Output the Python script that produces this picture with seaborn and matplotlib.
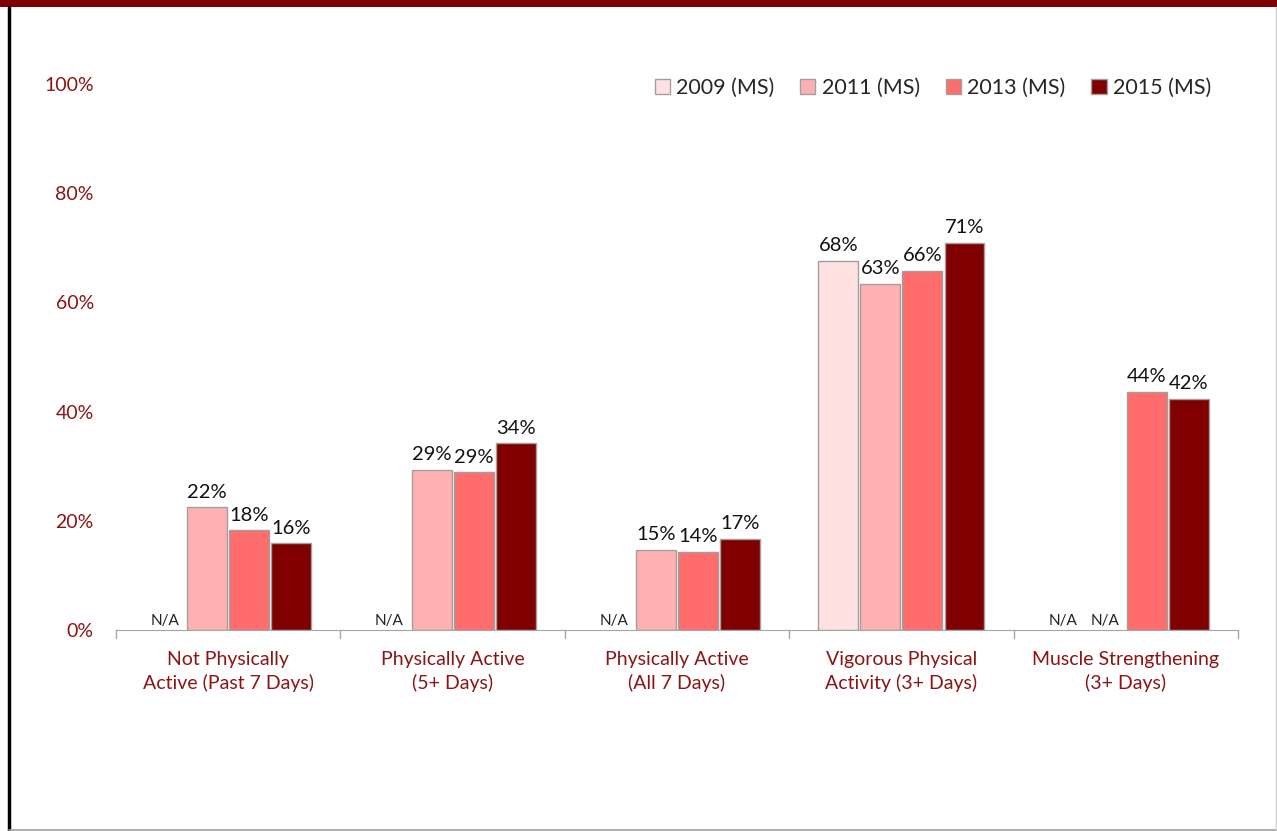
import numpy as np
import pandas as pd
import matplotlib
matplotlib.use("Agg")
import matplotlib.pyplot as plt
import seaborn as sns
from matplotlib.patches import Rectangle, Patch

# --- data ---
categories = ['Not Physically\nActive (Past 7 Days)', 'Physically Active\n(5+ Days)',
              'Physically Active\n(All 7 Days)', 'Vigorous Physical\nActivity (3+ Days)',
              'Muscle Strengthening\n(3+ Days)']
years = ['2009 (MS)', '2011 (MS)', '2013 (MS)', '2015 (MS)']
vals_2009 = [np.nan, np.nan, np.nan, 67.6, np.nan]
vals_2011 = [22.5, 29.3, 14.7, 63.4, np.nan]
vals_2013 = [18.3, 28.9, 14.3, 65.8, 43.6]
vals_2015 = [15.9, 34.2, 16.7, 70.9, 42.3]
labels_2009 = ['N/A', 'N/A', 'N/A', '68%', 'N/A']
labels_2011 = ['22%', '29%', '15%', '63%', 'N/A']
labels_2013 = ['18%', '29%', '14%', '66%', '44%']
labels_2015 = ['16%', '34%', '17%', '71%', '42%']
colors = ['#FFE1E1', '#FFB1B1', '#FF6D6D', '#800000']

series = [vals_2009, vals_2011, vals_2013, vals_2015]
label_sets = [labels_2009, labels_2011, labels_2013, labels_2015]
rows = []
for y, vals in zip(years, series):
    for c, v in zip(categories, vals):
        rows.append({'Category': c, 'Year': y, 'Value': v / 100})
df = pd.DataFrame(rows)

sns.set_style('white')
plt.rcParams['font.family'] = ['Lato', 'DejaVu Sans']
red_txt = '#8C1414'

fig = plt.figure(figsize=(12.77, 8.31), dpi=100)
ax = fig.add_axes([116/1277, 1 - 630/831, (1238 - 116)/1277, (630 - 84)/831])

group_w = 0.75
sns.barplot(data=df, x='Category', y='Value', hue='Year', order=categories, hue_order=years,
            palette=colors, saturation=1, width=group_w, gap=0.05, edgecolor='#A0A0A0',
            linewidth=1, legend=False, ax=ax)

ax.set_ylim(0, 1)
ax.set_xlim(-0.5, len(categories) - 0.5)
ax.set_yticks([0, 0.2, 0.4, 0.6, 0.8, 1.0])
ax.set_yticklabels(['0%', '20%', '40%', '60%', '80%', '100%'], color=red_txt, fontsize=14)
ax.tick_params(axis='y', length=0, pad=16)
ax.set_xticks(range(len(categories)))
ax.set_xticklabels(categories, color=red_txt, fontsize=14, linespacing=1.4)
ax.tick_params(axis='x', length=0, pad=15)
ax.set_xlabel('')
ax.set_ylabel('')
for s in ['top', 'right', 'left']:
    ax.spines[s].set_visible(False)
ax.spines['bottom'].set_color('#A6A6A6')

# boundary tick marks below the axis
for b in np.arange(-0.5, len(categories), 1.0):
    ax.plot([b, b], [0, -0.015], color='#A6A6A6', lw=1, clip_on=False)

# value labels
slot = group_w / len(years)
for j, (vals, labs) in enumerate(zip(series, label_sets)):
    off = (j - (len(years) - 1) / 2) * slot
    for i, (v, lab) in enumerate(zip(vals, labs)):
        x = i + off
        if np.isnan(v):
            ax.text(x, 0.003, lab, ha='center', va='bottom', fontsize=11, color='#222222')
        else:
            ax.text(x, v / 100 + 0.012, lab, ha='center', va='bottom', fontsize=14.5, color='#111111')

# legend
handles = [Patch(facecolor=c, edgecolor='#A0A0A0', linewidth=1) for c in colors]
fig.legend(handles, years, loc='center right', bbox_to_anchor=(1222/1277, 1 - 88/831),
           ncol=4, frameon=False, fontsize=15.5, handlelength=0.7, handleheight=0.7,
           handletextpad=0.3, columnspacing=1.2, borderpad=0)

# frame decorations
fig.patches.append(Rectangle((0, 1 - 7/831), 1, 7/831, transform=fig.transFigure,
                             facecolor='#800000', edgecolor='none'))
fig.lines.append(plt.Line2D([9/1277, 9/1277], [0, 1 - 7/831], transform=fig.transFigure,
                            color='black', lw=2.5))
fig.lines.append(plt.Line2D([9/1277, 1], [1.5/831, 1.5/831], transform=fig.transFigure,
                            color='#A0A0A0', lw=1.2))
fig.lines.append(plt.Line2D([1275.5/1277, 1275.5/1277], [0, 1 - 7/831], transform=fig.transFigure,
                            color='#D0D0D0', lw=1))

fig.savefig('out.png', dpi=100)
